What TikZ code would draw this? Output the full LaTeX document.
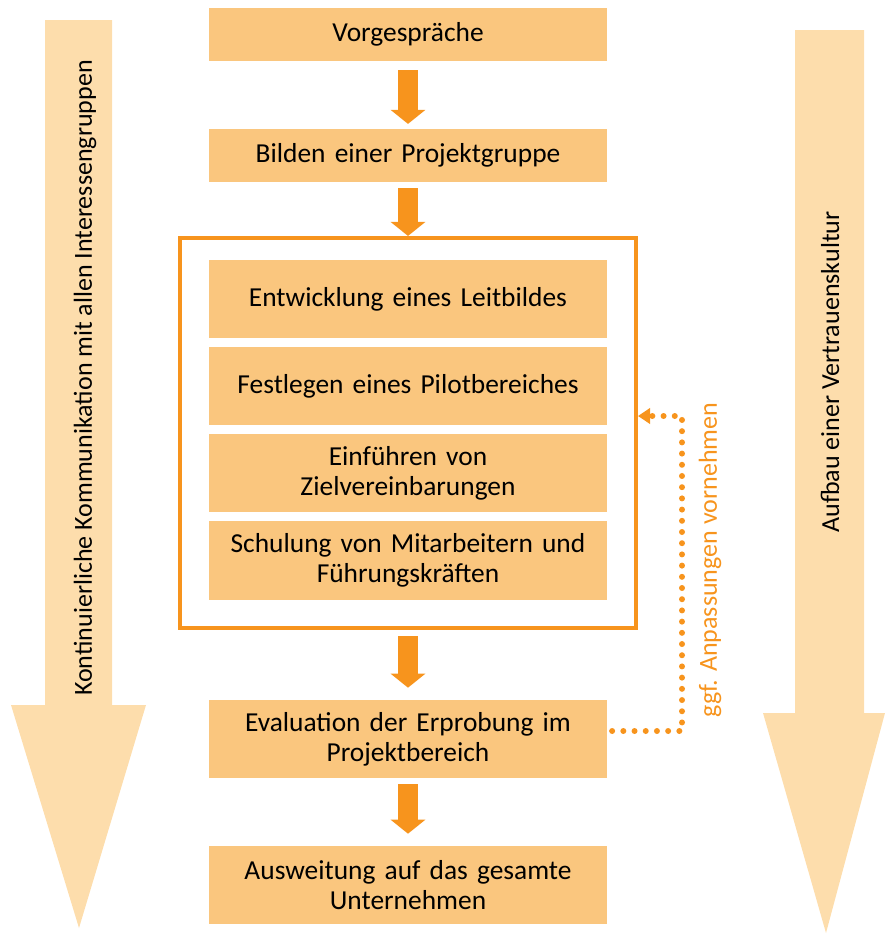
\documentclass[tikz,border=0pt]{standalone}
\usepackage{fontspec}
\setmainfont{Carlito}
\usetikzlibrary{arrows.meta,positioning}
\definecolor{procorange}{RGB}{247,148,29}
\definecolor{boxfill}{RGB}{250,198,126}
\definecolor{bandfill}{RGB}{253,221,172}
\newcommand{\boxfont}{\fontsize{19.5}{21.5}\selectfont}
\newcommand{\bandfont}{\fontsize{18.5}{21.5}\selectfont}
\tikzset{
  stepbox/.style={fill=boxfill, minimum width=9.95cm, minimum height=#1, text width=9.7cm,
    align=center, inner sep=0pt, font=\boxfont},
  flowarrow/.style={draw=procorange, line width=0.5cm, -{Triangle[width=0.85cm,length=0.35cm]}},
  feedback/.style={draw=procorange, line width=0.15cm, line cap=round,
    dash pattern=on 0pt off 0.28cm, -{Triangle[width=0.38cm,length=0.3cm]}},
  bandtext/.style={rotate=90, font=\bandfont}
}
\begin{document}
\begin{tikzpicture}[x=0.025cm,y=-0.025cm]
  \useasboundingbox (0,0) rectangle (885,935);
  \fill[bandfill] (45,20) -- (112,20) -- (112,705) -- (146,705) -- (79,928) -- (11,705) -- (45,705) -- cycle;
  \node[bandtext] (lefttext) at (85,378) {Kontinuierliche Kommunikation mit allen Interessengruppen};
  \fill[bandfill] (795,30) -- (864,30) -- (864,713) -- (885,713) -- (826,933) -- (763,713) -- (795,713) -- cycle;
  \node[bandtext] (righttext) at (830,372) {Aufbau einer Vertrauenskultur};

  \node[stepbox=1.325cm] (vor) at (408,34.5) {Vorgespräche};
  \node[stepbox=1.325cm] (bil) at (408,155.5) {Bilden einer Projektgruppe};
  \node[draw=procorange, line width=0.1cm, minimum width=11.4cm, minimum height=9.75cm] (frame) at (408,433) {};
  \node[stepbox=1.95cm] (ent) at (408,299) {Entwicklung eines Leitbildes};
  \node[stepbox=1.95cm] (fes) at (408,386) {Festlegen eines Pilotbereiches};
  \node[stepbox=1.95cm] (ein) at (408,473) {Einführen von\\Zielvereinbarungen};
  \node[stepbox=1.95cm] (sch) at (408,560.5) {Schulung von Mitarbeitern und\\Führungskräften};
  \node[stepbox=1.95cm] (eva) at (408,739) {Evaluation der Erprobung im\\Projektbereich};
  \node[stepbox=1.95cm] (aus) at (408,885) {Ausweitung auf das gesamte\\Unternehmen};

  \draw[flowarrow, shorten <=0.22cm, shorten >=0.12cm] (vor) -- (bil);
  \draw[flowarrow, shorten <=0.15cm] (bil) -- (frame);
  \draw[flowarrow, shorten <=0.15cm, shorten >=0.3cm] (frame) -- (eva);
  \draw[flowarrow, shorten <=0.15cm, shorten >=0.3cm] (eva) -- (aus);

  \coordinate (turn) at (682,416);
  \coordinate (back) at (638,416);
  \draw[feedback, shorten <=0.12cm] ([yshift=0.2cm]eva.east) -| (turn) -- (back);
  \node[bandtext, text=procorange] (adjust) at (710,560) {ggf. Anpassungen vornehmen};
\end{tikzpicture}
\end{document}
